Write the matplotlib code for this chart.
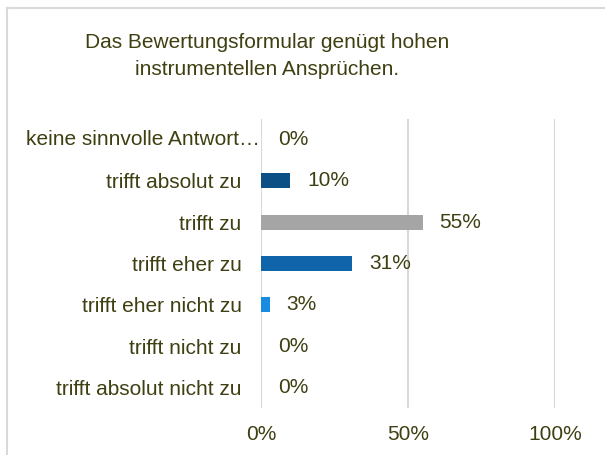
import matplotlib
matplotlib.use("Agg")
import matplotlib.pyplot as plt
from matplotlib.lines import Line2D

plt.rcParams['font.family'] = ['Liberation Sans', 'DejaVu Sans']

# data (top to bottom as shown)
categories = ['keine sinnvolle Antwort…', 'trifft absolut zu', 'trifft zu', 'trifft eher zu',
              'trifft eher nicht zu', 'trifft nicht zu', 'trifft absolut nicht zu']
values = [0, 10, 55, 31, 3, 0, 0]
bar_colors = ['#0B4F84', '#0B4F84', '#A5A5A5', '#1065AA', '#1A8BE3', '#1A8BE3', '#1A8BE3']
xticks = [0, 0.5, 1.0]
xtick_labels = ['0%', '50%', '100%']
title = 'Das Bewertungsformular genügt hohen\ninstrumentellen Ansprüchen.'

txt_color = '#3F3F12'
grid_color = '#D9D9D9'
fs = 15

fig = plt.figure(figsize=(6.05, 4.55), dpi=100)
W, H = 605, 455
ax = fig.add_axes([261 / W, 47 / H, 294 / W, 289 / H])

ypos = list(range(len(categories)))
ax.barh(ypos, [v / 100 for v in values], height=0.36, color=bar_colors, zorder=3)
ax.set_ylim(len(categories) - 0.5, -0.5)
ax.set_xlim(0, 1)

# value labels
for y, v in zip(ypos, values):
    ax.annotate(f'{v}%', xy=(v / 100, y), xytext=(12, 0), textcoords='offset points',
                ha='left', va='center', fontsize=fs, color=txt_color)

ax.set_yticks(ypos[1:])
ax.set_yticklabels(categories[1:], fontsize=fs, color=txt_color)
# first label is truncated and overflows to the axis in the original
ax.text(-0.003, 0, categories[0], transform=ax.get_yaxis_transform(), ha='right', va='center',
        fontsize=fs, color=txt_color)
ax.set_xticks(xticks)
ax.set_xticklabels(xtick_labels, fontsize=fs, color=txt_color)
ax.tick_params(axis='y', length=0, pad=14)
ax.tick_params(axis='x', length=0, pad=12)

ax.grid(axis='x', color=grid_color, linewidth=1.5, zorder=0)
ax.set_axisbelow(True)
for s in ax.spines.values():
    s.set_visible(False)

fig.text(267 / W, 1 - 33 / H, title, ha='center', va='top', fontsize=15, color=txt_color,
         linespacing=1.55)

# chart frame (left and top edges visible)
fig.add_artist(Line2D([6.5 / W, 6.5 / W], [0, 1 - 8 / H], transform=fig.transFigure,
                      color=grid_color, linewidth=1.5))
fig.add_artist(Line2D([6.5 / W, 1], [1 - 8 / H, 1 - 8 / H], transform=fig.transFigure,
                      color=grid_color, linewidth=1.5))

fig.savefig('out.png', dpi=100)
